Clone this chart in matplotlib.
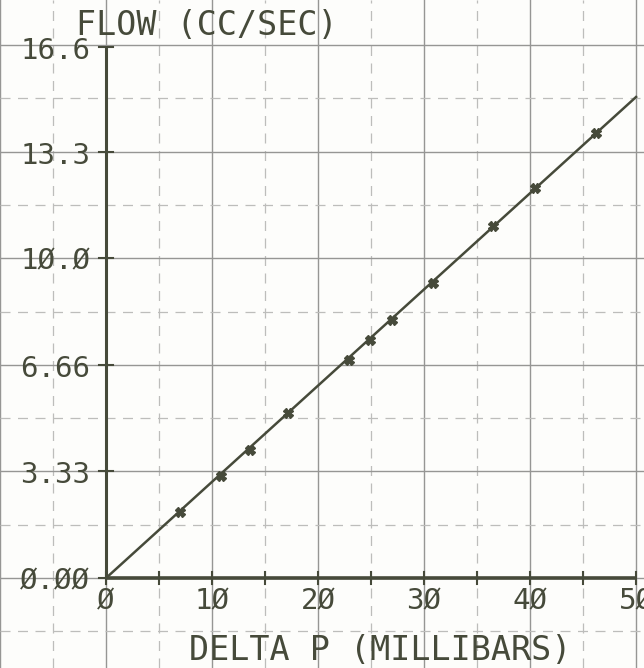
import matplotlib
matplotlib.use('Agg')
import matplotlib.pyplot as plt
import numpy as np

# measured points (delta P in millibars, flow in cc/sec)
dp = [6.98, 10.85, 13.58, 17.17, 22.9, 24.9, 27.0, 30.85, 36.5, 40.5, 46.2]
flow = [2.06, 3.19, 4.00, 5.16, 6.81, 7.44, 8.06, 9.22, 11.0, 12.19, 13.9]

# fitted line end points
fit_x = [0, 50]
fit_y = [0, 15.03]

# axis tick labels (plotter style slashed zeros)
x_ticks = [0, 10, 20, 30, 40, 50]
x_labels = ['Ø', '1Ø', '2Ø', '3Ø', '4Ø', '5Ø']
y_ticks = [0.0, 3.33, 6.66, 10.0, 13.3, 16.6]
y_labels = ['Ø.ØØ', '3.33', '6.66', '1Ø.Ø', '13.3', '16.6']

ink = '#464a3a'
grid_col = '#969694'
plt.rcParams['font.family'] = ['DejaVu Sans Mono']

fig = plt.figure(figsize=(6.44, 6.68), dpi=100)
fig.patch.set_facecolor('#fdfdfb')
ax = fig.add_axes([0, 0, 1, 1])
ax.set_facecolor('#fdfdfb')
ax.set_xlim(-10, 50.75)
ax.set_ylim(-2.81, 18.06)
ax.axis('off')

# graph paper grid
ystep = 3.33
for gx in np.arange(-10, 55, 10):
    ax.axvline(gx, color=grid_col, lw=1.0, zorder=1)
for gx in np.arange(-5, 55, 10):
    ax.axvline(gx, color='#bdbdbb', lw=0.9, ls=(0, (8, 6)), zorder=1)
for k in range(-1, 6):
    ax.axhline(k * ystep, color=grid_col, lw=1.0, zorder=1)
for k in range(-1, 6):
    ax.axhline((k + 0.5) * ystep, color='#bdbdbb', lw=0.9, ls=(0, (8, 6)), zorder=1)

# axes
ax.plot([0, 50], [0, 0], color=ink, lw=2.6, zorder=3, solid_capstyle='butt')
ax.plot([0, 0], [0, 16.6], color=ink, lw=2.2, zorder=3, solid_capstyle='butt')
for tx in np.arange(0, 55, 5):
    ax.plot([tx, tx], [-0.2, 0.2], color=ink, lw=1.5, zorder=3)
for ty in y_ticks:
    ax.plot([-0.7, 0.7], [ty, ty], color=ink, lw=1.5, zorder=3)

for tx, lab in zip(x_ticks, x_labels):
    ax.text(tx, -0.3, lab, ha='center', va='top', fontsize=21, color=ink, zorder=4)
for ty, lab in zip(y_ticks, y_labels):
    ax.text(-1.5, ty - 0.12, lab, ha='right', va='center', fontsize=21, color=ink, zorder=4)

ax.text(-2.8, 17.25, 'FLOW (CC/SEC)', ha='left', va='center', fontsize=24, color=ink, zorder=4)
ax.text(25.9, -2.25, 'DELTA P (MILLIBARS)', ha='center', va='center', fontsize=24, color=ink, zorder=4)

# data
ax.plot(fit_x, fit_y, color=ink, lw=1.8, zorder=5)
ax.plot(dp, flow, ls='none', marker='X', markersize=6.5, color=ink, zorder=6)

fig.savefig('out.png', dpi=100, facecolor=fig.get_facecolor())
